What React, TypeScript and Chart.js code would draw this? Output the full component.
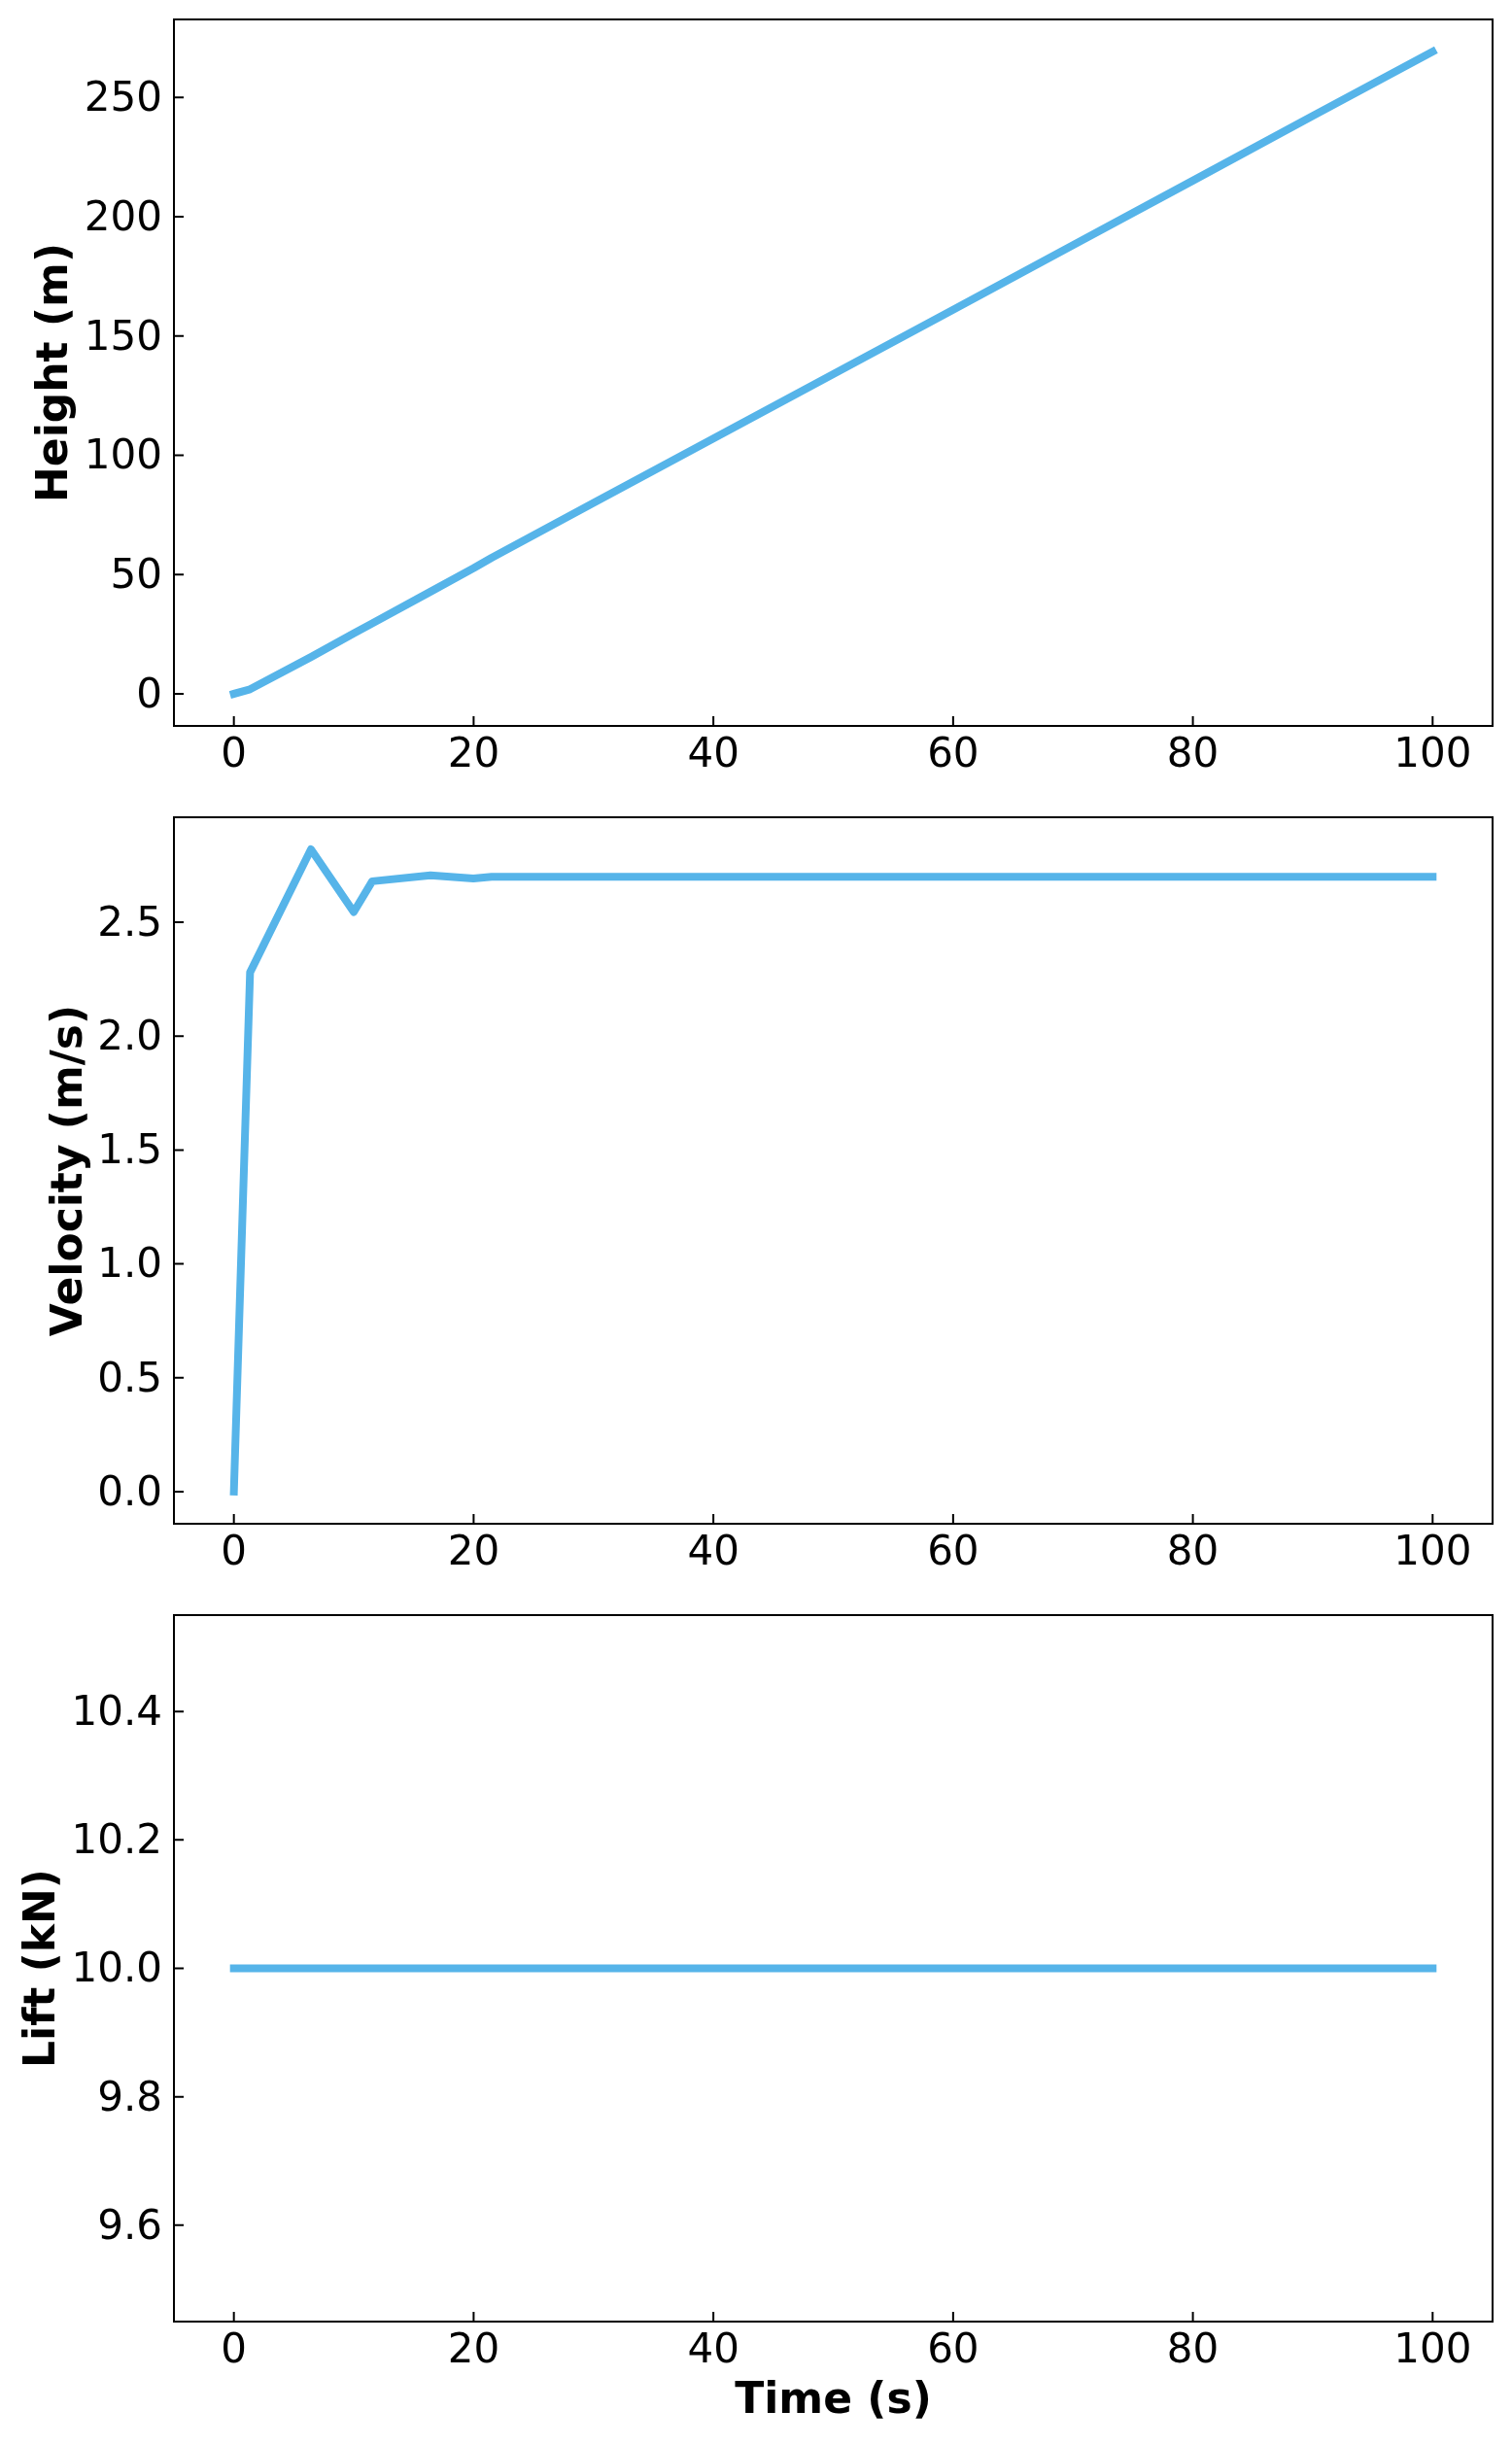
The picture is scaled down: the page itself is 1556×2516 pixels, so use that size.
import React, { useEffect, useRef } from 'react';
import { Chart, registerables } from 'chart.js';

Chart.register(...registerables);

// ---- data ----
const timeS = [0, 1.35, 6.43, 10.0, 11.54, 16.4, 19.98, 21.5, 30, 40, 50, 60, 70, 80, 90, 100];
const heightM = [0, 1.9, 15.4, 25.3, 29.5, 42.8, 52.6, 57.0, 80.0, 107.0, 134.0, 161.0, 188.1, 215.1, 242.2, 269.2];
const velocityMS = [0, 2.28, 2.82, 2.545, 2.68, 2.706, 2.692, 2.7, 2.7, 2.7, 2.7, 2.7, 2.7, 2.7, 2.7, 2.7];
const liftKN = [10.0, 10.0, 10.0, 10.0, 10.0, 10.0, 10.0, 10.0, 10.0, 10.0, 10.0, 10.0, 10.0, 10.0, 10.0, 10.0];

const timeTicks = [0, 20, 40, 60, 80, 100];
const heightTicks = [0, 50, 100, 150, 200, 250];
const velocityTicks = [0, 0.5, 1.0, 1.5, 2.0, 2.5];
const liftTicks = [9.6, 9.8, 10.0, 10.2, 10.4];

const LINE_COLOR = '#56B4E9';
const FONT = "'DejaVu Sans', 'Liberation Sans', sans-serif";

const framePlugin = {
  id: 'mplFrame',
  afterDatasetsDraw(chart: any) {
    const { ctx, chartArea, scales } = chart;
    const { left, right, top, bottom } = chartArea;
    ctx.save();
    ctx.strokeStyle = '#000';
    ctx.lineWidth = 2;
    ctx.beginPath();
    scales.x.ticks.forEach((t: any) => {
      const px = scales.x.getPixelForValue(t.value);
      ctx.moveTo(px, bottom);
      ctx.lineTo(px, bottom - 10);
    });
    scales.y.ticks.forEach((t: any) => {
      const py = scales.y.getPixelForValue(t.value);
      ctx.moveTo(left, py);
      ctx.lineTo(left + 10, py);
    });
    ctx.stroke();
    ctx.strokeRect(left, top, right - left, bottom - top);
    ctx.restore();
  },
};

type PanelProps = {
  values: number[];
  yLabel: string;
  yTicks: number[];
  yMin: number;
  yMax: number;
  decimals: number;
  top: number;
  height: number;
  padTop: number;
  xHeight: number;
  yTitlePad: number;
  xTitle?: string;
};

function Panel(p: PanelProps) {
  const ref = useRef<HTMLCanvasElement | null>(null);
  useEffect(() => {
    if (!ref.current) return;
    const chart = new Chart(ref.current, {
      type: 'line',
      data: {
        datasets: [
          {
            data: timeS.map((t, i) => ({ x: t, y: p.values[i] })),
            borderColor: LINE_COLOR,
            backgroundColor: LINE_COLOR,
            borderWidth: 8,
            borderCapStyle: 'square',
            borderJoinStyle: 'round',
            pointRadius: 0,
            tension: 0,
            fill: false,
          },
        ],
      },
      options: {
        animation: false,
        responsive: false,
        devicePixelRatio: 1,
        layout: { padding: { top: p.padTop, right: 20, bottom: 0, left: 0 } },
        plugins: { legend: { display: false }, tooltip: { enabled: false } },
        scales: {
          x: {
            type: 'linear',
            min: -5,
            max: 105,
            grid: { display: false, drawTicks: false, tickLength: 0 },
            border: { display: false },
            afterBuildTicks: (s: any) => {
              s.ticks = timeTicks.map((v) => ({ value: v }));
            },
            afterFit: (s: any) => {
              s.height = p.xHeight;
              s.paddingLeft = 0;
              s.paddingRight = 0;
              s.paddingTop = 0;
              s.paddingBottom = 0;
            },
            ticks: {
              color: '#000',
              padding: 6,
              maxRotation: 0,
              autoSkip: false,
              font: { family: FONT, size: 42, lineHeight: 1.2 },
              callback: (v: any) => String(v),
            },
            title: p.xTitle
              ? {
                  display: true,
                  text: p.xTitle,
                  color: '#000',
                  font: { family: FONT, size: 44, weight: 'bold', lineHeight: 1.2 },
                  padding: { top: 0, bottom: 17.6 },
                }
              : { display: false },
          },
          y: {
            type: 'linear',
            min: p.yMin,
            max: p.yMax,
            grid: { display: false, drawTicks: false, tickLength: 0 },
            border: { display: false },
            afterBuildTicks: (s: any) => {
              s.ticks = p.yTicks.map((v) => ({ value: v }));
            },
            afterFit: (s: any) => {
              s.width = 179;
              s.paddingLeft = 0;
              s.paddingRight = 0;
              s.paddingTop = 0;
              s.paddingBottom = 0;
            },
            ticks: {
              color: '#000',
              padding: 12,
              labelOffset: 3,
              autoSkip: false,
              font: { family: FONT, size: 42, lineHeight: 1.2 },
              callback: (v: any) => Number(v).toFixed(p.decimals),
            },
            title: {
              display: true,
              text: p.yLabel,
              color: '#000',
              font: { family: FONT, size: 44, weight: 'bold', lineHeight: 1.2 },
              padding: { top: p.yTitlePad, bottom: 0 },
            },
          },
        },
      },
      plugins: [framePlugin],
    } as any);
    return () => chart.destroy();
  }, []);
  return (
    <canvas
      ref={ref}
      width={1556}
      height={p.height}
      style={{ position: 'absolute', left: 0, top: p.top, width: 1556, height: p.height, display: 'block' }}
    />
  );
}

export default function App() {
  useEffect(() => {
    document.body.style.margin = '0';
    document.body.style.background = '#fff';
  }, []);
  return (
    <div style={{ position: 'relative', width: 1556, height: 2516, background: '#fff' }}>
      <Panel
        values={heightM}
        yLabel="Height (m)"
        yTicks={heightTicks}
        yMin={-13.46}
        yMax={282.66}
        decimals={0}
        top={0}
        height={820}
        padTop={20}
        xHeight={73}
        yTitlePad={31.5}
      />
      <Panel
        values={velocityMS}
        yLabel="Velocity (m/s)"
        yTicks={velocityTicks}
        yMin={-0.141}
        yMax={2.961}
        decimals={1}
        top={820}
        height={820}
        padTop={21}
        xHeight={72}
        yTitlePad={46}
      />
      <Panel
        values={liftKN}
        yLabel="Lift (kN)"
        yTicks={liftTicks}
        yMin={9.45}
        yMax={10.55}
        decimals={1}
        top={1640}
        height={876}
        padTop={22}
        xHeight={127}
        yTitlePad={18}
        xTitle="Time (s)"
      />
    </div>
  );
}
